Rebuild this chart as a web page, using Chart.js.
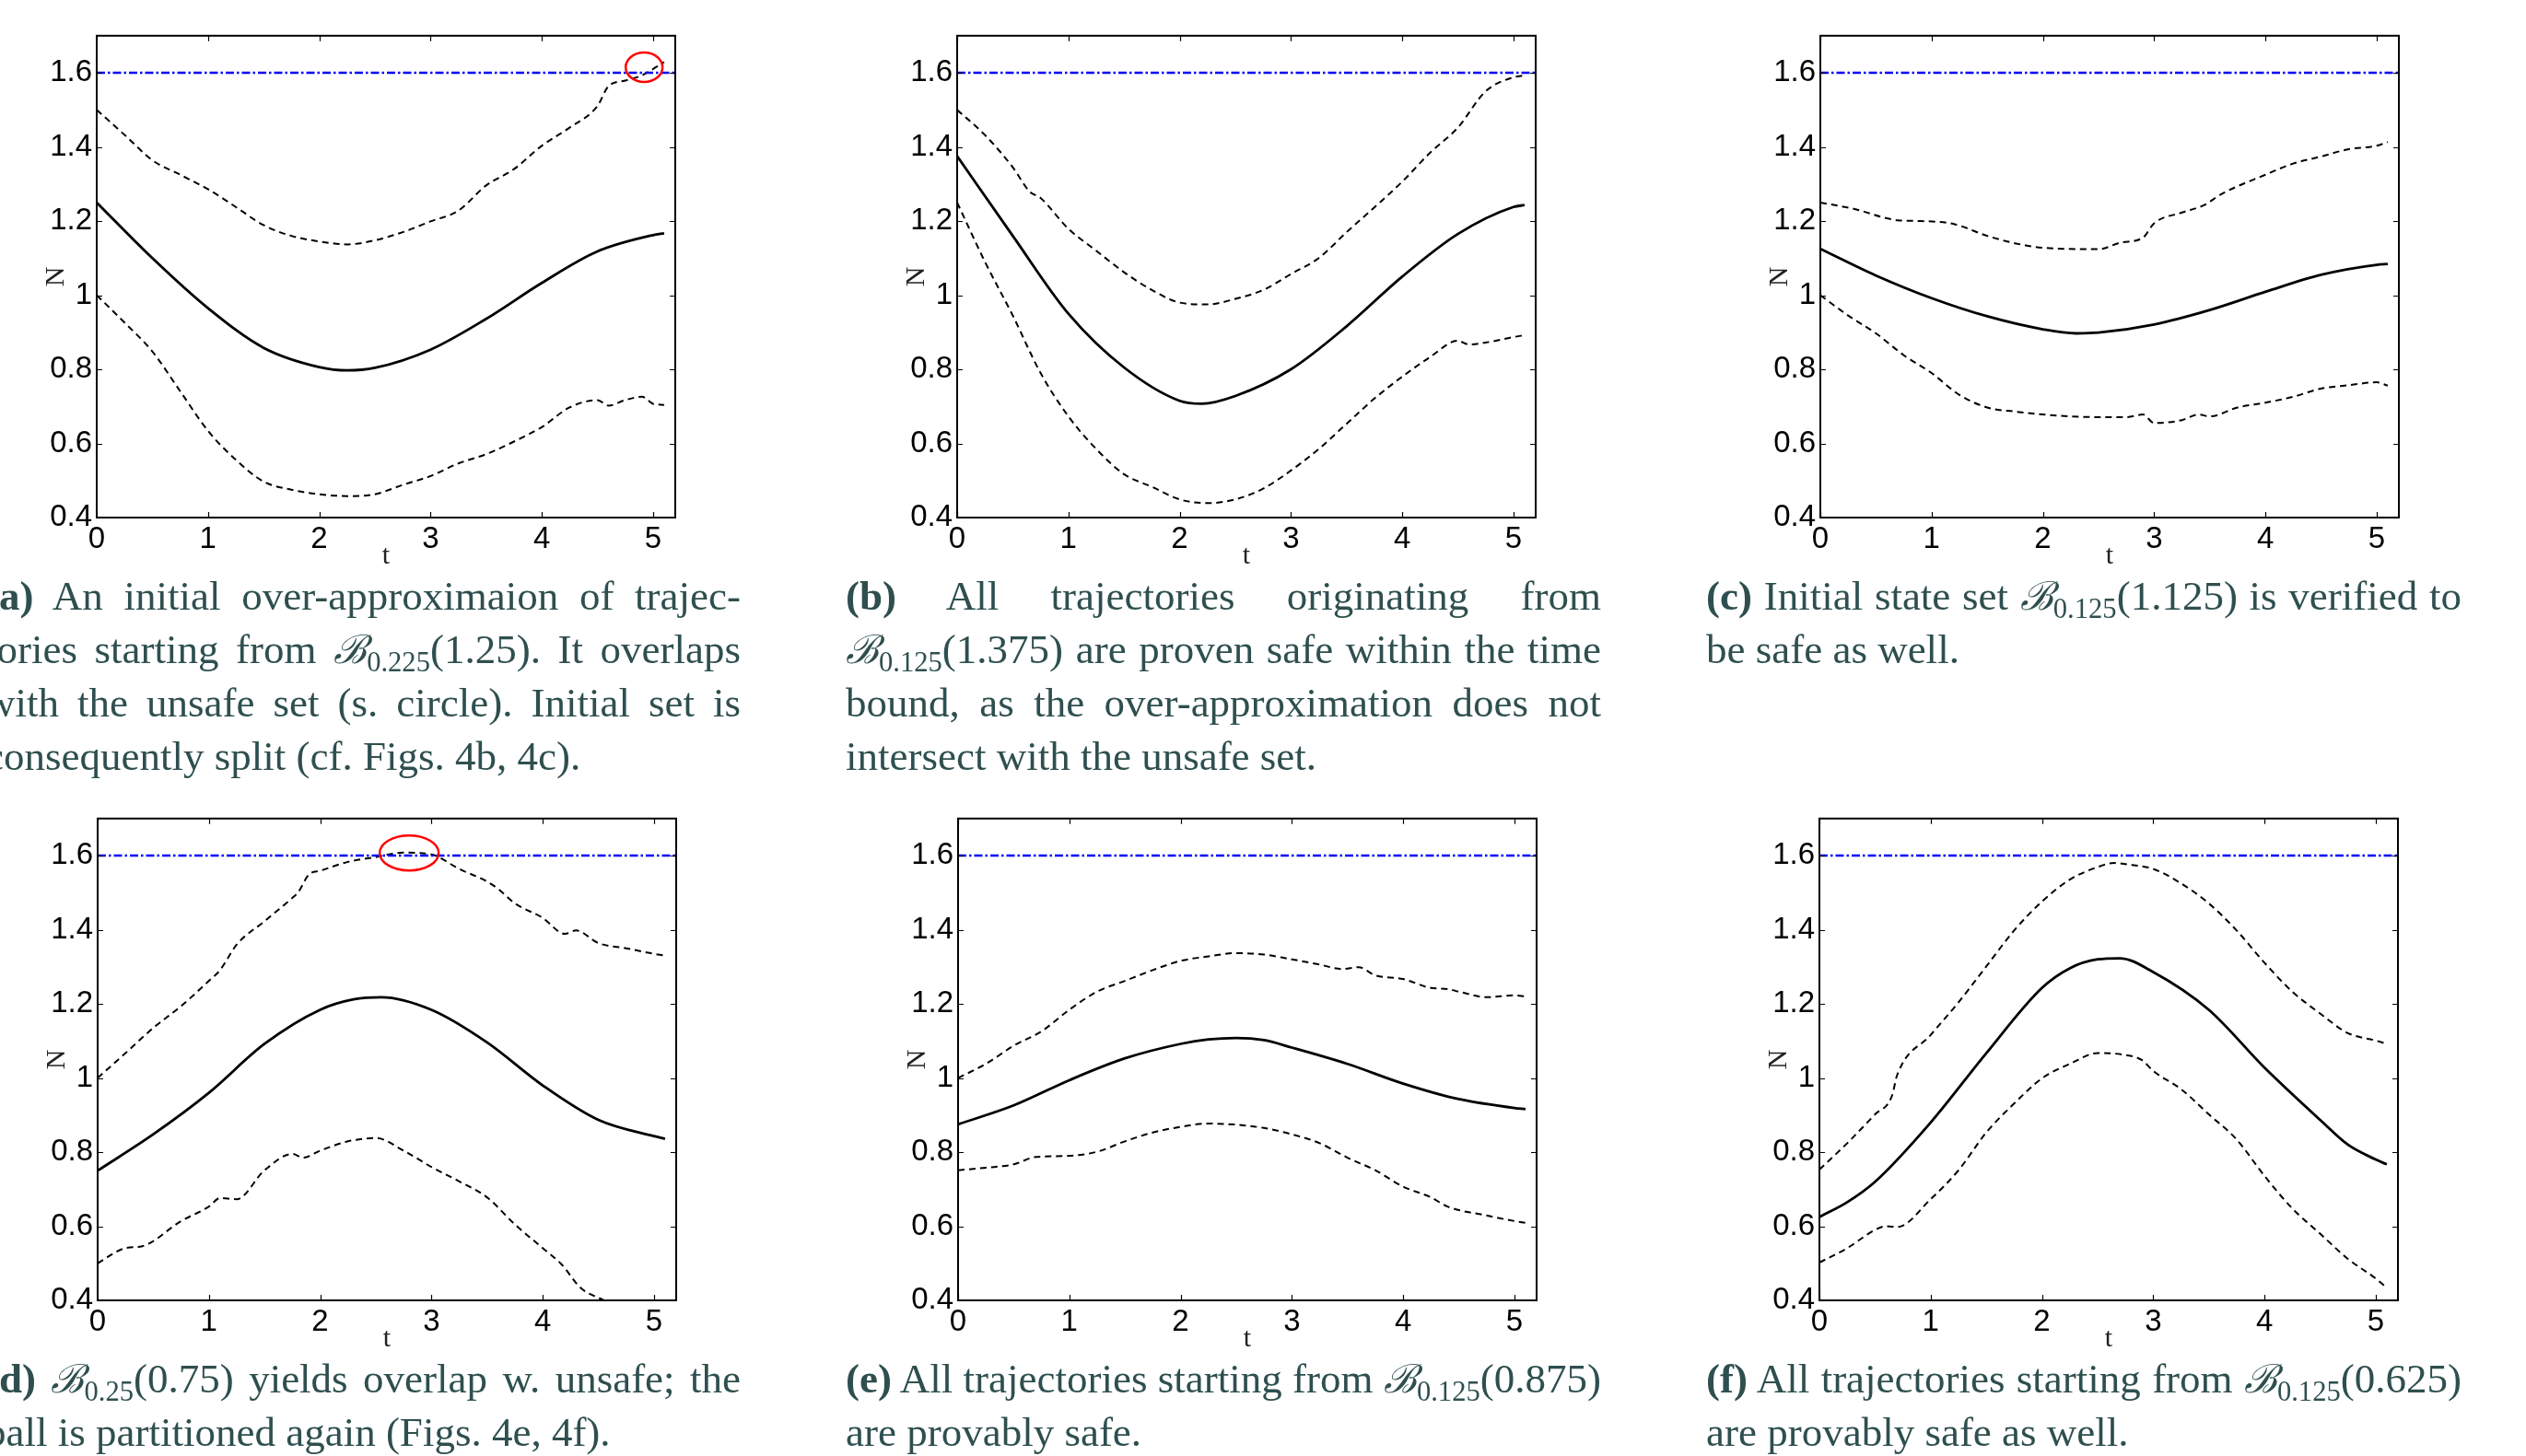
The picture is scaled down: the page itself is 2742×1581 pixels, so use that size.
<!DOCTYPE html>
<html>
<head>
<meta charset="utf-8">
<script src="https://cdn.jsdelivr.net/npm/chart.js@4.4.1/dist/chart.umd.min.js"></script>
<style>
  html, body { margin: 0; padding: 0; background: #fff; }
  body { width: 2742px; height: 1581px; position: relative; overflow: hidden; }
  canvas.panel { position: absolute; }
  .ln {
    position: absolute; width: 820px; height: 58px; line-height: 58px;
    font-family: "Liberation Serif", "Times New Roman", serif; font-size: 45px;
    color: #2f4f4f; text-align: justify; text-align-last: justify;
    word-spacing: -3px; overflow: visible;
  }
  .ln.last { text-align: left; text-align-last: left; word-spacing: normal; }
  .ln b { font-weight: bold; }
  .B { font-family: "DejaVu Serif", serif; font-style: italic; font-size: 0.95em; }
  .ln sub { font-size: 0.68em; vertical-align: -0.3em; line-height: 0; }
</style>
</head>
<body>
<canvas class="panel" id="pa" width="728" height="608"></canvas>
<canvas class="panel" id="pb" width="728" height="608"></canvas>
<canvas class="panel" id="pc" width="728" height="608"></canvas>
<canvas class="panel" id="pd" width="728" height="608"></canvas>
<canvas class="panel" id="pe" width="728" height="608"></canvas>
<canvas class="panel" id="pf" width="728" height="608"></canvas>

<div class="ln" style="left:-16px;top:618px"><b>(a)</b> An initial over-approximaion of trajec-</div>
<div class="ln" style="left:-16px;top:676px">tories starting from <span class="B">ℬ</span><sub>0.225</sub>(1.25). It overlaps</div>
<div class="ln" style="left:-16px;top:734px">with the unsafe set (s. circle). Initial set is</div>
<div class="ln last" style="left:-16px;top:792px">consequently split (cf. Figs. 4b, 4c).</div>

<div class="ln" style="left:918px;top:618px"><b>(b)</b> All trajectories originating from</div>
<div class="ln" style="left:918px;top:676px"><span class="B">ℬ</span><sub>0.125</sub>(1.375) are proven safe within the time</div>
<div class="ln" style="left:918px;top:734px">bound, as the over-approximation does not</div>
<div class="ln last" style="left:918px;top:792px">intersect with the unsafe set.</div>

<div class="ln" style="left:1852px;top:618px"><b>(c)</b> Initial state set <span class="B">ℬ</span><sub>0.125</sub>(1.125) is verified to</div>
<div class="ln last" style="left:1852px;top:676px">be safe as well.</div>

<div class="ln" style="left:-16px;top:1468px"><b>(d)</b> <span class="B">ℬ</span><sub>0.25</sub>(0.75) yields overlap w. unsafe; the</div>
<div class="ln last" style="left:-16px;top:1526px">ball is partitioned again (Figs. 4e, 4f).</div>

<div class="ln" style="left:918px;top:1468px"><b>(e)</b> All trajectories starting from <span class="B">ℬ</span><sub>0.125</sub>(0.875)</div>
<div class="ln last" style="left:918px;top:1526px">are provably safe.</div>

<div class="ln" style="left:1852px;top:1468px"><b>(f)</b> All trajectories starting from <span class="B">ℬ</span><sub>0.125</sub>(0.625)</div>
<div class="ln last" style="left:1852px;top:1526px">are provably safe as well.</div>

<script>
// unsafe bound and axis ticks
const unsafeN = 1.6;
const xTicks = [0, 1, 2, 3, 4, 5];
const yTicks = [0.4, 0.6, 0.8, 1, 1.2, 1.4, 1.6];

// (a) B_0.225(1.25)
const aMidT = [0, 0.5, 1, 1.5, 2, 2.25, 2.5, 3, 3.5, 4, 4.5, 5, 5.1];
const aMidN = [1.25, 1.10, 0.965, 0.858, 0.806, 0.797, 0.804, 0.853, 0.936, 1.033, 1.118, 1.162, 1.167];
const aUpT = [0, 0.27, 0.5, 0.75, 1, 1.25, 1.5, 1.75, 2, 2.25, 2.5, 2.75, 3, 3.25, 3.5, 3.75, 4, 4.25, 4.5, 4.6, 4.75, 4.9, 5.1];
const aUpN = [1.50, 1.427, 1.364, 1.325, 1.286, 1.238, 1.189, 1.16, 1.145, 1.137, 1.148, 1.17, 1.199, 1.228, 1.296, 1.34, 1.403, 1.452, 1.51, 1.564, 1.579, 1.593, 1.629];
const aLoT = [0, 0.25, 0.5, 0.75, 1, 1.25, 1.5, 1.75, 2, 2.25, 2.5, 2.75, 3, 3.25, 3.5, 3.75, 4, 4.25, 4.5, 4.6, 4.75, 4.9, 5, 5.1];
const aLoN = [1.0, 0.926, 0.848, 0.741, 0.634, 0.556, 0.497, 0.475, 0.463, 0.458, 0.463, 0.488, 0.512, 0.546, 0.571, 0.605, 0.644, 0.697, 0.717, 0.702, 0.717, 0.726, 0.707, 0.704];

// (b) B_0.125(1.375)
const bMidT = [0, 0.5, 1, 1.5, 2, 2.2, 2.5, 3, 3.5, 4, 4.5, 5, 5.1];
const bMidN = [1.375, 1.16, 0.95, 0.805, 0.715, 0.707, 0.728, 0.80, 0.916, 1.05, 1.165, 1.238, 1.243];
const bUpT = [0, 0.25, 0.5, 0.65, 0.75, 1, 1.25, 1.5, 1.75, 2, 2.25, 2.5, 2.75, 3, 3.25, 3.5, 3.75, 4, 4.25, 4.5, 4.75, 5, 5.1];
const bUpN = [1.50, 1.432, 1.345, 1.28, 1.262, 1.179, 1.12, 1.062, 1.014, 0.98, 0.975, 0.99, 1.014, 1.057, 1.10, 1.17, 1.237, 1.306, 1.384, 1.452, 1.55, 1.588, 1.593];
const bLoT = [0, 0.25, 0.5, 0.75, 1, 1.25, 1.5, 1.75, 2, 2.25, 2.5, 2.75, 3, 3.25, 3.5, 3.75, 4, 4.25, 4.5, 4.6, 4.75, 5, 5.1];
const bLoN = [1.25, 1.09, 0.945, 0.79, 0.673, 0.585, 0.517, 0.483, 0.449, 0.439, 0.449, 0.478, 0.527, 0.585, 0.653, 0.721, 0.78, 0.833, 0.877, 0.867, 0.872, 0.887, 0.892];

// (c) B_0.125(1.125)
const cMidT = [0, 0.5, 1, 1.5, 2, 2.3, 2.5, 3, 3.5, 4, 4.5, 5, 5.1];
const cMidN = [1.125, 1.053, 0.992, 0.943, 0.908, 0.897, 0.899, 0.921, 0.96, 1.009, 1.055, 1.082, 1.084];
const cUpT = [0, 0.3, 0.7, 0.9, 1.2, 1.5, 1.75, 2, 2.5, 2.7, 2.9, 3.0, 3.25, 3.45, 3.6, 4, 4.25, 4.5, 4.75, 5, 5.1];
const cUpN = [1.25, 1.233, 1.202, 1.2, 1.192, 1.16, 1.14, 1.128, 1.124, 1.142, 1.155, 1.194, 1.223, 1.243, 1.272, 1.325, 1.355, 1.374, 1.394, 1.403, 1.413];
const cLoT = [0, 0.25, 0.5, 0.75, 1, 1.25, 1.5, 1.75, 2, 2.5, 2.75, 2.9, 3, 3.25, 3.4, 3.5, 3.75, 4, 4.25, 4.5, 4.75, 5, 5.1];
const cLoN = [1.0, 0.945, 0.897, 0.838, 0.79, 0.731, 0.697, 0.686, 0.678, 0.671, 0.671, 0.678, 0.655, 0.663, 0.678, 0.673, 0.697, 0.71, 0.726, 0.748, 0.757, 0.765, 0.756];

// (d) B_0.25(0.75)
const dMidT = [0, 0.5, 1, 1.5, 2, 2.3, 2.55, 3, 3.5, 4, 4.5, 5, 5.1];
const dMidN = [0.75, 0.848, 0.96, 1.092, 1.184, 1.212, 1.218, 1.184, 1.096, 0.98, 0.887, 0.843, 0.836];
const dUpT = [0, 0.25, 0.5, 0.75, 1, 1.1, 1.25, 1.5, 1.75, 1.8, 1.9, 2, 2.25, 2.5, 2.75, 3, 3.25, 3.5, 3.6, 3.75, 4, 4.2, 4.3, 4.5, 4.75, 5, 5.1];
const dUpN = [1.0, 1.067, 1.135, 1.194, 1.262, 1.291, 1.36, 1.423, 1.486, 1.5, 1.549, 1.559, 1.583, 1.596, 1.608, 1.603, 1.564, 1.53, 1.51, 1.471, 1.432, 1.389, 1.398, 1.364, 1.35, 1.335, 1.33];
const dLoT = [0, 0.25, 0.4, 0.75, 1, 1.1, 1.25, 1.5, 1.75, 1.85, 2, 2.25, 2.5, 2.75, 3, 3.25, 3.5, 3.75, 4, 4.17, 4.34, 4.55];
const dLoN = [0.5, 0.541, 0.546, 0.614, 0.653, 0.676, 0.673, 0.751, 0.795, 0.785, 0.804, 0.829, 0.838, 0.804, 0.76, 0.721, 0.678, 0.605, 0.541, 0.497, 0.434, 0.40];

// (e) B_0.125(0.875)
const eMidT = [0, 0.5, 1, 1.5, 2, 2.25, 2.5, 2.75, 3, 3.5, 4, 4.5, 5, 5.1];
const eMidN = [0.875, 0.926, 0.994, 1.053, 1.092, 1.104, 1.108, 1.102, 1.082, 1.038, 0.985, 0.943, 0.919, 0.916];
const eUpT = [0, 0.25, 0.5, 0.75, 1, 1.25, 1.5, 1.75, 2, 2.25, 2.5, 2.75, 3, 3.25, 3.45, 3.6, 3.75, 4, 4.25, 4.4, 4.5, 4.75, 5, 5.1];
const eUpN = [1.0, 1.038, 1.087, 1.126, 1.184, 1.233, 1.262, 1.291, 1.316, 1.328, 1.337, 1.333, 1.32, 1.306, 1.294, 1.299, 1.277, 1.267, 1.243, 1.24, 1.233, 1.218, 1.223, 1.22];
const eLoT = [0, 0.25, 0.5, 0.7, 1, 1.25, 1.5, 1.75, 2, 2.25, 2.5, 2.75, 3, 3.25, 3.5, 3.75, 4, 4.25, 4.4, 4.75, 5, 5.1];
const eLoN = [0.751, 0.758, 0.767, 0.787, 0.79, 0.801, 0.829, 0.853, 0.868, 0.877, 0.874, 0.865, 0.848, 0.824, 0.785, 0.751, 0.707, 0.678, 0.653, 0.629, 0.614, 0.609];

// (f) B_0.125(0.625)
const fMidT = [0, 0.25, 0.5, 1, 1.5, 2, 2.25, 2.5, 2.7, 3, 3.5, 4, 4.5, 4.75, 5, 5.1];
const fMidN = [0.625, 0.665, 0.72, 0.88, 1.067, 1.243, 1.296, 1.32, 1.323, 1.286, 1.184, 1.028, 0.887, 0.82, 0.78, 0.767];
const fUpT = [0, 0.25, 0.5, 0.65, 0.7, 1, 1.25, 1.5, 1.75, 2, 2.25, 2.5, 2.65, 2.75, 3, 3.25, 3.5, 3.75, 4, 4.25, 4.5, 4.75, 5, 5.1];
const fUpN = [0.753, 0.824, 0.902, 0.95, 1.009, 1.116, 1.204, 1.301, 1.398, 1.476, 1.535, 1.569, 1.58, 1.577, 1.564, 1.525, 1.471, 1.398, 1.311, 1.233, 1.174, 1.121, 1.101, 1.092];
const fLoT = [0, 0.25, 0.5, 0.6, 0.7, 1, 1.25, 1.5, 1.75, 2, 2.25, 2.5, 2.75, 2.9, 3, 3.25, 3.5, 3.75, 4, 4.25, 4.5, 4.75, 5, 5.1];
const fLoN = [0.502, 0.541, 0.59, 0.6, 0.598, 0.673, 0.751, 0.853, 0.931, 0.999, 1.038, 1.067, 1.062, 1.048, 1.019, 0.97, 0.902, 0.834, 0.736, 0.648, 0.58, 0.512, 0.459, 0.434];

// where the over-approximation touches the unsafe set (t, N)
const aOverlap = [4.92, 1.615];
const dOverlap = [2.80, 1.607];

function pts(ts, ns) {
  return ts.map((t, i) => ({ x: t, y: ns[i] }));
}

// MATLAB-ish box with inward ticks, plus the red marker ring
const boxPlugin = {
  id: 'box',
  afterDatasetsDraw(chart) {
    const { ctx, chartArea: a, scales: { x, y } } = chart;
    ctx.save();
    const ring = chart.options.plugins.box.ring;
    if (ring) {
      ctx.strokeStyle = '#ff0000';
      ctx.lineWidth = 2.5;
      ctx.beginPath();
      ctx.ellipse(x.getPixelForValue(ring.t), y.getPixelForValue(ring.n), ring.rx, ring.ry, 0, 0, Math.PI * 2);
      ctx.stroke();
    }
    ctx.strokeStyle = '#000';
    ctx.lineWidth = 1.2;
    ctx.beginPath();
    x.ticks.forEach((tk) => {
      const px = Math.round(x.getPixelForValue(tk.value)) + 0.5;
      ctx.moveTo(px, a.bottom); ctx.lineTo(px, a.bottom - 6);
      ctx.moveTo(px, a.top); ctx.lineTo(px, a.top + 6);
    });
    y.ticks.forEach((tk) => {
      const py = Math.round(y.getPixelForValue(tk.value)) + 0.5;
      ctx.moveTo(a.left, py); ctx.lineTo(a.left + 6, py);
      ctx.moveTo(a.right, py); ctx.lineTo(a.right - 6, py);
    });
    ctx.stroke();
    ctx.lineWidth = 2;
    ctx.strokeRect(a.left, a.top, a.right - a.left, a.bottom - a.top);
    ctx.restore();
  },
};

function makePanel(id, left, top, mid, up, lo, ring) {
  const el = document.getElementById(id);
  el.style.left = left - 80 + 'px';
  el.style.top = top - 20 + 'px';
  const dashed = { borderColor: '#000', borderWidth: 2, borderDash: [7, 5], pointRadius: 0, cubicInterpolationMode: 'monotone' };
  new Chart(el.getContext('2d'), {
    type: 'line',
    data: {
      datasets: [
        { data: [{ x: 0, y: unsafeN }, { x: 5.2, y: unsafeN }], borderColor: '#0000ff', borderWidth: 2.6, borderDash: [9, 3, 2.5, 3], pointRadius: 0 },
        { ...dashed, data: up },
        { ...dashed, data: lo },
        { data: mid, borderColor: '#000', borderWidth: 2.8, pointRadius: 0, cubicInterpolationMode: 'monotone' },
      ],
    },
    options: {
      responsive: false,
      animation: false,
      events: [],
      layout: { padding: { left: 0, top: 20, right: 20, bottom: 0 } },
      plugins: { legend: { display: false }, tooltip: { enabled: false }, box: { ring } },
      scales: {
        x: {
          type: 'linear', min: 0, max: 5.2,
          afterFit: (s) => { s.height = 60; },
          afterBuildTicks: (s) => { s.ticks = xTicks.map((v) => ({ value: v })); },
          grid: { display: false, drawTicks: false },
          border: { display: false },
          ticks: { padding: 4, color: '#000', font: { family: 'Liberation Sans', size: 33 }, maxRotation: 0, callback: (v) => String(v) },
          title: { display: true, text: 't', color: '#222', padding: { top: 0, bottom: 0 }, font: { family: 'Liberation Serif', size: 30 } },
        },
        y: {
          type: 'linear', min: 0.4, max: 1.7,
          afterFit: (s) => { s.width = 80; },
          afterBuildTicks: (s) => { s.ticks = yTicks.map((v) => ({ value: v })); },
          grid: { display: false, drawTicks: false },
          border: { display: false },
          ticks: { padding: 5, color: '#000', font: { family: 'Liberation Sans', size: 33 }, callback: (v) => String(+v.toFixed(1)) },
          title: { display: true, text: 'N', color: '#222', padding: { top: 18, bottom: 0 }, font: { family: 'Liberation Serif', size: 30 } },
        },
      },
    },
    plugins: [boxPlugin],
  });
}

makePanel('pa', 105, 34, pts(aMidT, aMidN), pts(aUpT, aUpN), pts(aLoT, aLoN), { t: aOverlap[0], n: aOverlap[1], rx: 20, ry: 16 });
makePanel('pb', 1039, 34, pts(bMidT, bMidN), pts(bUpT, bUpN), pts(bLoT, bLoN), null);
makePanel('pc', 1976, 34, pts(cMidT, cMidN), pts(cUpT, cUpN), pts(cLoT, cLoN), null);
makePanel('pd', 106, 884, pts(dMidT, dMidN), pts(dUpT, dUpN), pts(dLoT, dLoN), { t: dOverlap[0], n: dOverlap[1], rx: 32, ry: 19 });
makePanel('pe', 1040, 884, pts(eMidT, eMidN), pts(eUpT, eUpN), pts(eLoT, eLoN), null);
makePanel('pf', 1975, 884, pts(fMidT, fMidN), pts(fUpT, fUpN), pts(fLoT, fLoN), null);
</script>
</body>
</html>
